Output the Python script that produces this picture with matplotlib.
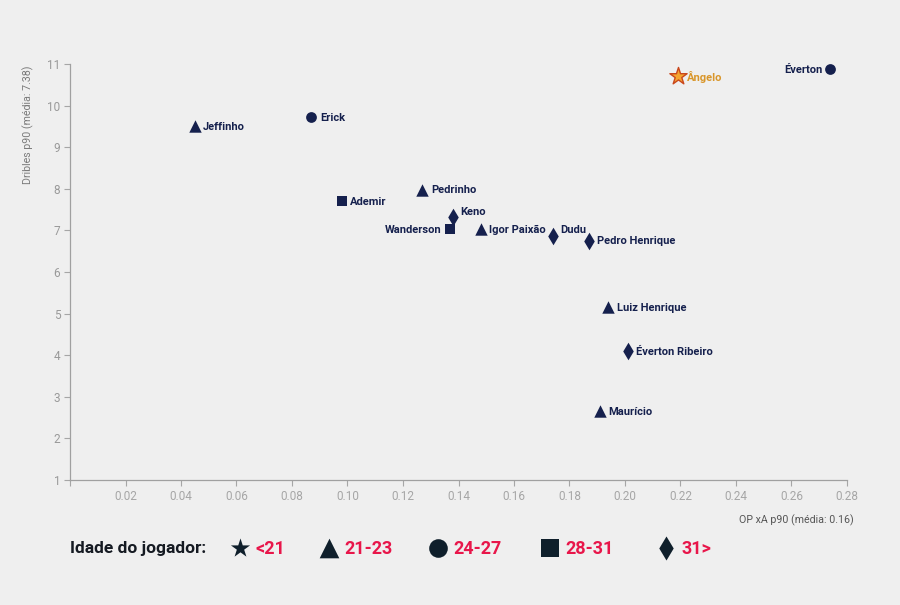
import matplotlib.pyplot as plt

# players data
names = ["Jeffinho", "Erick", "Ademir", "Pedrinho", "Keno", "Wanderson", "Igor Paixão",
         "Dudu", "Pedro Henrique", "Luiz Henrique", "Éverton Ribeiro", "Maurício",
         "Ângelo", "Éverton"]
xa = [0.045, 0.087, 0.098, 0.127, 0.138, 0.137, 0.148,
      0.174, 0.187, 0.194, 0.201, 0.191, 0.219, 0.274]
dribbles = [9.5, 9.73, 7.71, 7.98, 7.32, 7.03, 7.03,
            6.87, 6.75, 5.15, 4.1, 2.66, 10.71, 10.88]
age_group = ["21-23", "24-27", "28-31", "21-23", "31>", "28-31", "21-23",
             "31>", "31>", "21-23", "31>", "21-23", "<21", "24-27"]
label_left = ["Wanderson", "Éverton"]
label_up = ["Dudu", "Keno"]

groups = ["<21", "21-23", "24-27", "28-31", "31>"]
markers = {"<21": "*", "21-23": "^", "24-27": "o", "28-31": "s", "31>": "d"}
sizes = {"<21": 150, "21-23": 80, "24-27": 60, "28-31": 50, "31>": 80}

bg = "#efefef"
navy = "#15204d"
grey = "#a6a6a6"

plt.rcParams['font.family'] = ['Roboto', 'DejaVu Sans']

fig = plt.figure(figsize=(9, 6.05), dpi=100, facecolor=bg)
ax = fig.add_axes([70/900, 1-480/605, (847-70)/900, (480-64)/605])
ax.set_facecolor(bg)

for n, x, y, g in zip(names, xa, dribbles, age_group):
    if n == "Ângelo":
        ax.scatter(x, y, marker="*", s=170, color="#f5a430", edgecolor="#c9471c",
                   linewidth=1, zorder=3)
        ax.annotate(n, (x, y), xytext=(6.5, -0.5), textcoords="offset points",
                    ha="left", va="center", fontsize=8, fontweight="bold", color="#d9962a")
        continue
    ax.scatter(x, y, marker=markers[g], s=sizes[g], color=navy, linewidth=0, zorder=3)
    if n in label_left:
        off, ha = (-6, -0.5), "right"
    elif n in label_up:
        off, ha = (5, 4), "left"
    else:
        off, ha = (6, -0.5), "left"
    ax.annotate(n, (x, y), xytext=off, textcoords="offset points",
                ha=ha, va="center", fontsize=8, fontweight="bold", color=navy)

ax.set_xlim(0, 0.28)
ax.set_ylim(1, 11)
xt = [0.0, 0.02, 0.04, 0.06, 0.08, 0.10, 0.12, 0.14, 0.16, 0.18, 0.20, 0.22, 0.24, 0.26, 0.28]
ax.set_xticks(xt)
ax.set_xticklabels([""] + ["%.2f" % v for v in xt[1:]])
ax.set_yticks(range(1, 12))
ax.tick_params(colors=grey, labelsize=8.5, length=4, width=0.8, pad=3)
ax.tick_params(axis="y", labelcolor="#999999")
for s in ["top", "right"]:
    ax.spines[s].set_visible(False)
for s in ["left", "bottom"]:
    ax.spines[s].set_color("#a0a0a0")
    ax.spines[s].set_linewidth(0.9)

fig.text(28/900, 1-65/605, "Dribles p90 (média: 7.38)", rotation=90, ha="center",
         va="top", fontsize=7.7, color="#7a7a7a")
fig.text(854/900, 1-520/605, "OP xA p90 (média: 0.16)", ha="right", va="center",
         fontsize=7.7, color="#555555")

# legend row at the bottom
lg = fig.add_axes([0, 0, 1, 1], facecolor="none")
lg.set_xlim(0, 900)
lg.set_ylim(605, 0)
lg.axis("off")
lg.text(70, 549, "Idade do jogador:", ha="left", va="center", fontsize=12.5,
        fontweight="bold", color="#151a22")
leg_x = [240, 329, 438, 550, 666]
leg_s = {"<21": 210, "21-23": 200, "24-27": 180, "28-31": 150, "31>": 150}
for g, lx in zip(groups, leg_x):
    lg.scatter(lx, 548, marker=markers[g], s=leg_s[g], color="#0f1f2b", linewidth=0)
    lg.text(lx + 15, 549, g, ha="left", va="center", fontsize=13,
            fontweight="bold", color="#e8164a")

fig.savefig("out.png", dpi=100, facecolor=bg)
